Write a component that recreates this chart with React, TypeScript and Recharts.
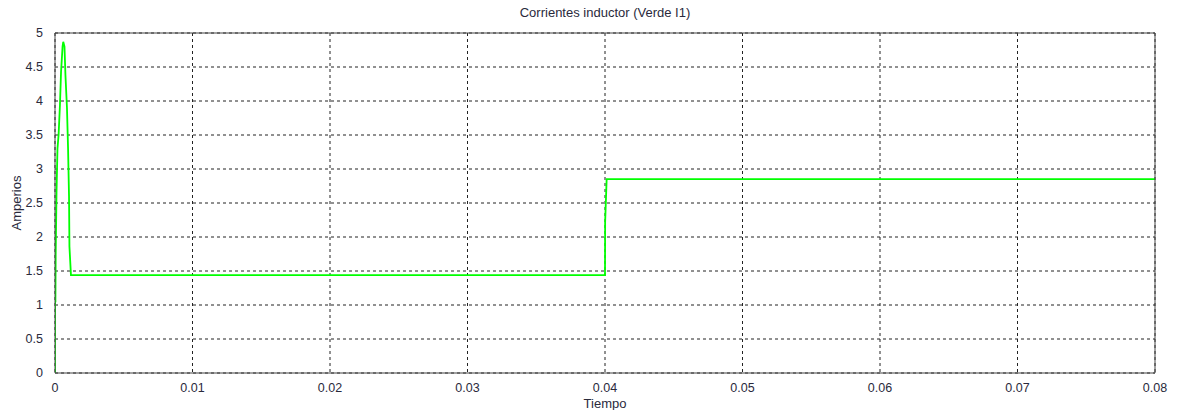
import React from 'react';
import { LineChart, Line, XAxis, YAxis, CartesianGrid } from 'recharts';

// Inductor current I1 (A) sampled over time (s)
const timeS = [
  0, 0.000005, 0.00002, 0.00003, 0.00005, 0.00011, 0.00018, 0.00026, 0.00036, 0.00044,
  0.00055, 0.0006, 0.00069, 0.00076, 0.00087, 0.00095, 0.00102, 0.00105, 0.00116, 0.04,
  0.04001, 0.04012, 0.08,
];
const currentI1 = [
  0, 1.0, 1.74, 1.04, 1.74, 2.65, 3.3, 3.5, 3.94, 4.43,
  4.8, 4.87, 4.8, 4.38, 3.9, 3.3, 2.6, 1.86, 1.44, 1.44,
  2.22, 2.85, 2.85,
];

const xTicks = [0, 0.01, 0.02, 0.03, 0.04, 0.05, 0.06, 0.07, 0.08];
const yTicks = [0, 0.5, 1, 1.5, 2, 2.5, 3, 3.5, 4, 4.5, 5];

const titleText = 'Corrientes inductor (Verde I1)';
const xLabel = 'Tiempo';
const yLabel = 'Amperios';

const data = timeS.map((t, i) => ({ t, i1: currentI1[i] }));

const FONT = 'Liberation Sans, Arial, sans-serif';
const TEXT = '#2a2a3c';
const FRAME = '#444';

export default function App() {
  const tickStyle = { fontSize: 12.5, fill: TEXT, fontFamily: FONT };
  return (
    <div style={{ position: 'absolute', left: 0, top: 0, width: 1178, height: 410, background: '#fff' }}>
      <div
        style={{
          position: 'absolute',
          left: 0,
          top: 5,
          width: 1210,
          textAlign: 'center',
          fontFamily: FONT,
          fontSize: 13,
          lineHeight: '16px',
          color: TEXT,
        }}
      >
        {titleText}
      </div>
      <LineChart width={1178} height={410} data={data} margin={{ top: 33, right: 23, bottom: 0, left: 0 }}>
        <CartesianGrid
          xAxisId="x"
          yAxisId="y"
          stroke="#222"
          strokeDasharray="3 3"
          strokeWidth={1}
        />
        {/* bottom axis with labels */}
        <XAxis
          xAxisId="x"
          dataKey="t"
          type="number"
          domain={[0, 0.08]}
          ticks={xTicks}
          allowDataOverflow
          height={37}
          tickLine={false}
          axisLine={{ stroke: FRAME }}
          tick={tickStyle}
          tickMargin={4}
          label={{ value: xLabel, position: 'insideBottom', offset: 2, style: { fontSize: 13, fill: TEXT, fontFamily: FONT } }}
        />
        {/* inward tick marks, bottom */}
        <XAxis
          xAxisId="xIn"
          type="number"
          domain={[0, 0.08]}
          ticks={xTicks}
          mirror
          tick={false}
          tickSize={5}
          tickLine={{ stroke: FRAME }}
          axisLine={false}
        />
        {/* top frame with inward ticks */}
        <XAxis
          xAxisId="xTop"
          orientation="top"
          type="number"
          domain={[0, 0.08]}
          ticks={xTicks}
          mirror
          tick={false}
          tickSize={5}
          tickLine={{ stroke: FRAME }}
          axisLine={{ stroke: FRAME }}
        />
        {/* left axis with labels */}
        <YAxis
          yAxisId="y"
          type="number"
          domain={[0, 5]}
          ticks={yTicks}
          allowDataOverflow
          width={55}
          tickLine={false}
          axisLine={{ stroke: FRAME }}
          tick={tickStyle}
          tickMargin={6}
          label={{ value: yLabel, angle: -90, position: 'insideLeft', offset: 16, style: { fontSize: 13, fill: TEXT, fontFamily: FONT, textAnchor: 'middle' } }}
        />
        {/* inward tick marks, left */}
        <YAxis
          yAxisId="yIn"
          type="number"
          domain={[0, 5]}
          ticks={yTicks}
          mirror
          tick={false}
          tickSize={5}
          tickLine={{ stroke: FRAME }}
          axisLine={false}
        />
        {/* right frame with inward ticks */}
        <YAxis
          yAxisId="yRight"
          orientation="right"
          type="number"
          domain={[0, 5]}
          ticks={yTicks}
          mirror
          tick={false}
          tickSize={5}
          tickLine={{ stroke: FRAME }}
          axisLine={{ stroke: FRAME }}
        />
        <Line
          xAxisId="x"
          yAxisId="y"
          type="linear"
          dataKey="i1"
          stroke="#00ff00"
          strokeWidth={1.8}
          dot={false}
          isAnimationActive={false}
        />
      </LineChart>
    </div>
  );
}
